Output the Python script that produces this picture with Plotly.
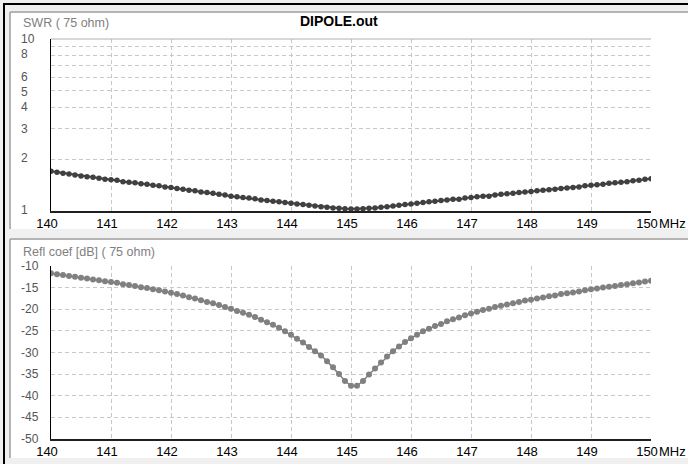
import math
import plotly.graph_objects as go

# ---------------- data ----------------
FREQ_MHZ = [140.0, 140.1, 140.2, 140.3, 140.4, 140.5, 140.6, 140.7, 140.8, 140.9,
            141.0, 141.1, 141.2, 141.3, 141.4, 141.5, 141.6, 141.7, 141.8, 141.9,
            142.0, 142.1, 142.2, 142.3, 142.4, 142.5, 142.6, 142.7, 142.8, 142.9,
            143.0, 143.1, 143.2, 143.3, 143.4, 143.5, 143.6, 143.7, 143.8, 143.9,
            144.0, 144.1, 144.2, 144.3, 144.4, 144.5, 144.6, 144.7, 144.8, 144.9,
            145.0, 145.1, 145.2, 145.3, 145.4, 145.5, 145.6, 145.7, 145.8, 145.9,
            146.0, 146.1, 146.2, 146.3, 146.4, 146.5, 146.6, 146.7, 146.8, 146.9,
            147.0, 147.1, 147.2, 147.3, 147.4, 147.5, 147.6, 147.7, 147.8, 147.9,
            148.0, 148.1, 148.2, 148.3, 148.4, 148.5, 148.6, 148.7, 148.8, 148.9,
            149.0, 149.1, 149.2, 149.3, 149.4, 149.5, 149.6, 149.7, 149.8, 149.9,
            150.0]

SWR_75 = [1.70, 1.68, 1.66, 1.64, 1.62, 1.60, 1.58, 1.57, 1.55, 1.53,
          1.52, 1.51, 1.48, 1.47, 1.46, 1.44, 1.43, 1.41, 1.40, 1.38,
          1.37, 1.35, 1.34, 1.32, 1.31, 1.29, 1.28, 1.27, 1.25, 1.24,
          1.22, 1.21, 1.20, 1.19, 1.18, 1.16, 1.15, 1.14, 1.13, 1.12,
          1.11, 1.10, 1.09, 1.08, 1.07, 1.06, 1.05, 1.04, 1.036, 1.03,
          1.026, 1.026, 1.03, 1.036, 1.04, 1.05, 1.06, 1.07, 1.08, 1.09,
          1.10, 1.11, 1.12, 1.13, 1.14, 1.15, 1.16, 1.17, 1.17, 1.19,
          1.20, 1.21, 1.22, 1.22, 1.24, 1.25, 1.26, 1.27, 1.28, 1.29,
          1.30, 1.31, 1.32, 1.33, 1.34, 1.35, 1.36, 1.37, 1.38, 1.40,
          1.41, 1.42, 1.43, 1.45, 1.46, 1.47, 1.48, 1.50, 1.51, 1.53,
          1.54]

REFL_DB = [-11.7, -11.9, -12.1, -12.3, -12.5, -12.7, -12.9, -13.1, -13.3, -13.5,
           -13.7, -13.9, -14.2, -14.4, -14.6, -14.9, -15.1, -15.4, -15.6, -15.9,
           -16.2, -16.5, -16.8, -17.2, -17.5, -17.9, -18.3, -18.6, -19.0, -19.5,
           -19.9, -20.4, -20.8, -21.3, -21.8, -22.4, -23.0, -23.6, -24.3, -25.1,
           -25.9, -26.8, -27.7, -28.7, -29.7, -30.7, -32.0, -33.4, -35.0, -36.6,
           -37.7, -37.7, -36.6, -35.1, -33.7, -32.3, -30.9, -29.7, -28.6, -27.6,
           -26.7, -25.9, -25.1, -24.5, -23.9, -23.4, -22.8, -22.3, -21.9, -21.4,
           -21.0, -20.6, -20.2, -19.9, -19.5, -19.2, -18.9, -18.6, -18.3, -18.0,
           -17.8, -17.5, -17.3, -17.0, -16.8, -16.5, -16.3, -16.1, -15.9, -15.6,
           -15.4, -15.2, -15.0, -14.8, -14.6, -14.4, -14.2, -14.0, -13.8, -13.6,
           -13.4]

X_TICKS = [140, 141, 142, 143, 144, 145, 146, 147, 148, 149, 150]
X_TICK_LABELS = ["140", "141", "142", "143", "144", "145", "146", "147", "148", "149", "150"]
X_UNIT = "MHz"
SWR_GRID = [1, 2, 3, 4, 5, 6, 7, 8, 9, 10]
SWR_LABELS = [10, 8, 6, 5, 4, 3, 2, 1]
REFL_TICKS = [-10, -15, -20, -25, -30, -35, -40, -45, -50]
TITLE = "DIPOLE.out"
SWR_TITLE = "SWR ( 75 ohm)"
REFL_TITLE = "Refl coef [dB] ( 75 ohm)"

# ---------------- geometry helpers (pixel -> paper) ----------------
W, H = 688, 464
def px(x):
    return x / W
def py(y):
    return 1 - y / H

TICK_FONT = dict(family="Liberation Sans Narrow, Arial Narrow, Liberation Sans, Arial, sans-serif",
                 size=13, color="#000000")
YLAB_FONT = dict(family="Liberation Sans Narrow, Arial Narrow, Liberation Sans, Arial, sans-serif",
                 size=12, color="#555555")
TITLE_FONT = dict(family="Liberation Sans, Arial, sans-serif", size=12.5, color="#808080")
GRID = "#c8c8c8"

fig = go.Figure()
fig.add_trace(go.Scatter(x=FREQ_MHZ, y=SWR_75, mode="lines+markers",
                         line=dict(color="#404040", width=2),
                         marker=dict(color="#404040", size=5.5),
                         xaxis="x", yaxis="y", showlegend=False, hoverinfo="skip"))
fig.add_trace(go.Scatter(x=FREQ_MHZ, y=REFL_DB, mode="lines+markers",
                         line=dict(color="#808080", width=1.5),
                         marker=dict(color="#808080", size=6),
                         xaxis="x2", yaxis="y2", showlegend=False, hoverinfo="skip"))

xcommon = dict(range=[140, 150], tickmode="array", tickvals=X_TICKS, ticktext=X_TICK_LABELS,
               showgrid=True, gridcolor=GRID, griddash="4px,3px", gridwidth=1,
               showline=True, linecolor="#202020", linewidth=1.5, zeroline=False,
               ticks="", tickfont=TICK_FONT, ticklabelshift=-4, fixedrange=True,
               automargin=False)
fig.update_layout(
    template="none",
    width=W, height=H, autosize=False,
    margin=dict(l=0, r=0, t=0, b=0, pad=0),
    paper_bgcolor="#f0f0f0", plot_bgcolor="#ffffff",
    xaxis=dict(domain=[px(51), px(651)], anchor="y", **xcommon),
    yaxis=dict(domain=[py(211), py(39)], anchor="x", type="log", range=[0, 1],
               tickmode="array", tickvals=SWR_GRID, showticklabels=False,
               showgrid=True, gridcolor=GRID, griddash="4px,3px",
               showline=True, linecolor="#000000", linewidth=1, zeroline=False, ticks="",
               fixedrange=True, automargin=False),
    xaxis2=dict(domain=[px(51), px(651)], anchor="y2", **xcommon),
    yaxis2=dict(domain=[py(439), py(266)], anchor="x2", range=[-50, -10],
                tickmode="array", tickvals=REFL_TICKS, showticklabels=False,
                showgrid=True, gridcolor=GRID, griddash="4px,3px",
                showline=True, linecolor="#000000", linewidth=1, zeroline=False, ticks="",
                fixedrange=True, automargin=False),
)

# ---------------- window / panel decoration ----------------
shapes = [
    dict(type="rect", xref="paper", yref="paper", x0=px(11), x1=px(688), y0=py(229), y1=py(13),
         fillcolor="#ffffff", line=dict(width=0), layer="below"),
    dict(type="rect", xref="paper", yref="paper", x0=px(11), x1=px(688), y0=py(458), y1=py(240),
         fillcolor="#ffffff", line=dict(width=0), layer="below"),
    dict(type="line", xref="paper", yref="paper", x0=px(10), x1=px(688), y0=py(12), y1=py(12),
         line=dict(color="#a0a0a0", width=1.5), layer="below"),
    dict(type="line", xref="paper", yref="paper", x0=px(10), x1=px(10), y0=py(229), y1=py(12),
         line=dict(color="#a0a0a0", width=1.5), layer="below"),
    dict(type="line", xref="paper", yref="paper", x0=px(10), x1=px(688), y0=py(239), y1=py(239),
         line=dict(color="#a0a0a0", width=1.5), layer="below"),
    dict(type="line", xref="paper", yref="paper", x0=px(10), x1=px(10), y0=py(458), y1=py(239),
         line=dict(color="#a0a0a0", width=1.5), layer="below"),
    dict(type="line", xref="paper", yref="paper", x0=px(3), x1=px(688), y0=py(4), y1=py(4),
         line=dict(color="#000000", width=2), layer="below"),
    dict(type="line", xref="paper", yref="paper", x0=px(4), x1=px(4), y0=py(464), y1=py(3),
         line=dict(color="#000000", width=2), layer="below"),
    dict(type="line", xref="x domain", yref="y domain", x0=0, x1=1, y0=1, y1=1,
         line=dict(color="#b0b0b0", width=1)),
]
fig.update_layout(shapes=shapes)

ann = []
ann.append(dict(text="<b>" + TITLE + "</b>", xref="paper", yref="paper", x=px(339), y=py(21),
                xanchor="center", yanchor="middle", showarrow=False,
                font=dict(family="Liberation Sans, Arial, sans-serif", size=14, color="#000000")))
ann.append(dict(text=SWR_TITLE, xref="paper", yref="paper", x=px(21), y=py(23.5),
                xanchor="left", yanchor="middle", showarrow=False, font=TITLE_FONT))
ann.append(dict(text=REFL_TITLE, xref="paper", yref="paper", x=px(21), y=py(252),
                xanchor="left", yanchor="middle", showarrow=False, font=TITLE_FONT))
SWR_LABEL_SHIFT = {10: 0, 8: 2, 6: 0, 5: -1, 4: 0, 3: 0, 2: 1, 1: 1}
for v in SWR_LABELS:
    ann.append(dict(text=str(v), xref="paper", yref="y", x=px(19), y=math.log10(v),
                    xanchor="left", yanchor="middle", showarrow=False, font=YLAB_FONT,
                    yshift=SWR_LABEL_SHIFT[v]))
for v in REFL_TICKS:
    ann.append(dict(text=str(v), xref="paper", yref="y2", x=px(19), y=v,
                    xanchor="left", yanchor="middle", showarrow=False, font=YLAB_FONT))
ann.append(dict(text=X_UNIT, xref="paper", yref="paper", x=px(657), y=py(223),
                xanchor="left", yanchor="middle", showarrow=False, font=TICK_FONT))
ann.append(dict(text=X_UNIT, xref="paper", yref="paper", x=px(657), y=py(451.5),
                xanchor="left", yanchor="middle", showarrow=False, font=TICK_FONT))
fig.update_layout(annotations=ann)

fig.write_html("out.html", config={"displayModeBar": False},
               post_script="document.body.style.margin='0';")
